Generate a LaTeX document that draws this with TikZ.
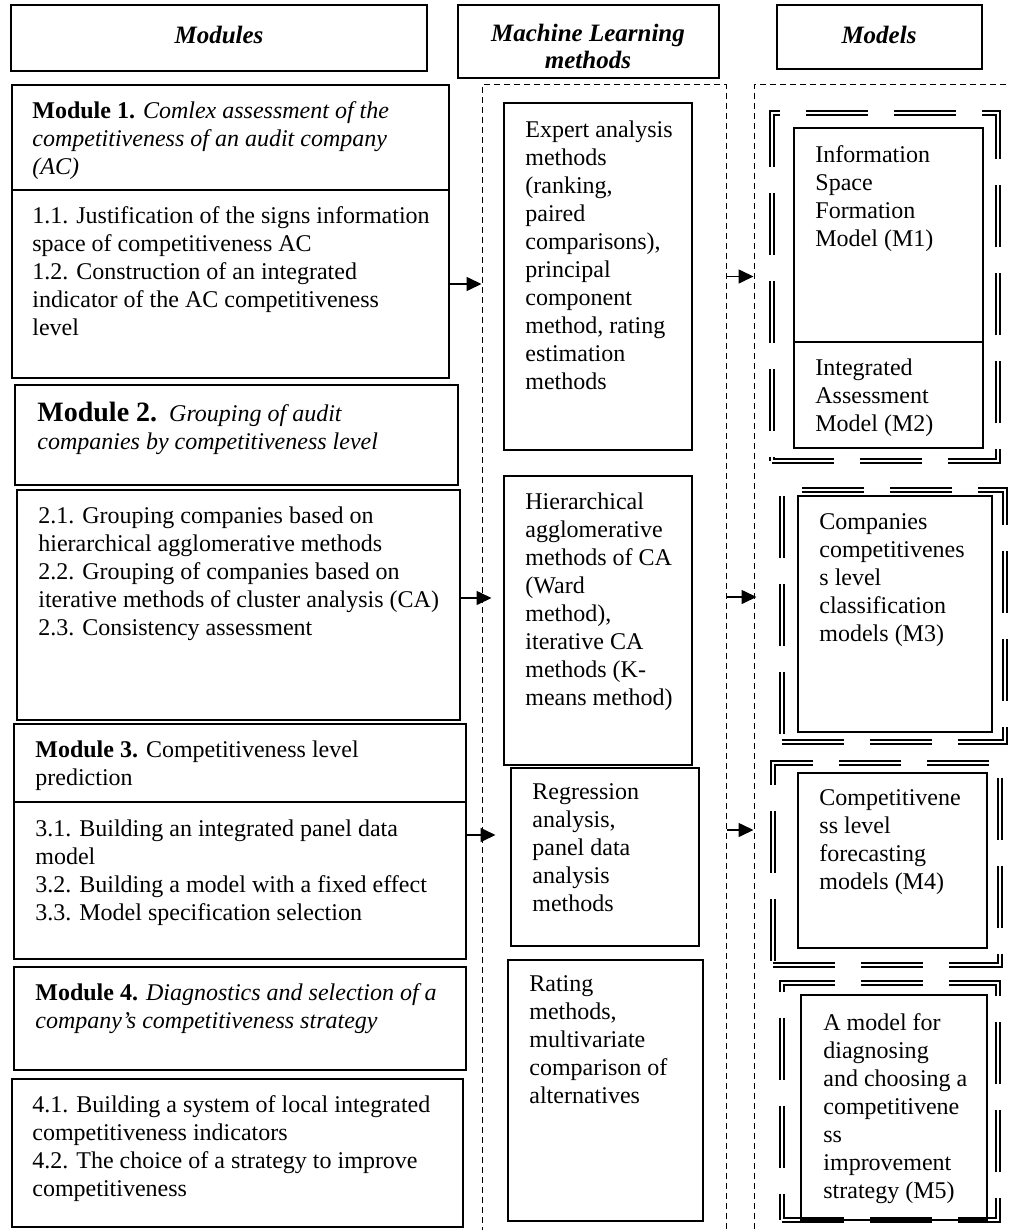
\documentclass[tikz,border=0pt]{standalone}
\usepackage{fontspec}
\setmainfont{Liberation Serif}
\usetikzlibrary{arrows.meta, calc, positioning, fit}

\tikzset{
  box/.style={draw, line width=0.8pt, inner sep=0pt},
  txt/.style={anchor=north west, inner sep=0pt, align=left, font=\fontsize{12}{14}\selectfont},
  htxt/.style={inner sep=0pt, align=center, font=\fontsize{12.5}{13.5}\selectfont\bfseries\itshape},
  frame/.style={draw, line width=0.5pt, dash pattern=on 3pt off 2pt, inner sep=0pt},
  dbl/.style={draw, double, line width=0.85pt, double distance=0.9pt, dash pattern=on 31pt off 13pt, inner sep=0pt},
  arr/.style={-{Triangle[length=7.5pt,width=7pt]}, line width=0.8pt},
}

\begin{document}
\begin{tikzpicture}[x=0.5pt,y=-0.5pt]
    \useasboundingbox (0,0) rectangle (1008,1230);

    % Column headers
    \node[box, fit={(11,5) (427,71)}] (hmod) {};
    \node[htxt] (hmodx) at (219,35) {Modules};
    \node[box, fit={(458,5) (719,78)}] (hml) {};
    \node[htxt] (hmlx) at (588,46) {Machine Learning\\methods};
    \node[box, fit={(777,5) (982,69)}] (hmdl) {};
    \node[htxt] (hmdlx) at (879,35) {Models};

    % Dashed column frames
    \node[frame, fit={(482,85) (726,1245)}] (mlframe) {};
    \node[frame, fit={(754,85) (1020,1245)}] (mdframe) {};

    % Module 1
    \node[box, fit={(12,85) (449,190)}] (mod1t) {};
    \node[txt] (mod1tx) at (32,101) {\textbf{Module 1.} \textit{Comlex assessment of the}\\\textit{competitiveness of an audit company}\\\textit{(AC)}};
    \node[box, fit={(12,190) (449,378)}] (mod1c) {};
    \node[txt] (mod1cx) at (32,206) {1.1. Justification of the signs information\\space of competitiveness AC\\1.2. Construction of an integrated\\indicator of the AC competitiveness\\level};

    % Module 2
    \node[box, fit={(15,385) (458,485)}] (mod2t) {};
    \node[txt] (mod2tx) at (37,402) {{\fontsize{14}{16}\selectfont\textbf{Module 2.}}\ \ \textit{Grouping of audit}\\\textit{companies by competitiveness level}};
    \node[box, fit={(17,490) (460,720)}] (mod2c) {};
    \node[txt] (mod2cx) at (38,506) {2.1. Grouping companies based on\\hierarchical agglomerative methods\\2.2. Grouping of companies based on\\iterative methods of cluster analysis (CA)\\2.3. Consistency assessment};

    % Module 3
    \node[box, fit={(14,724) (466,802)}] (mod3t) {};
    \node[txt] (mod3tx) at (35,740) {\textbf{Module 3.} Competitiveness level\\prediction};
    \node[box, fit={(14,802) (466,959)}] (mod3c) {};
    \node[txt] (mod3cx) at (35,819) {3.1. Building an integrated panel data\\model\\3.2. Building a model with a fixed effect\\3.3. Model specification selection};

    % Module 4
    \node[box, fit={(14,967) (466,1070)}] (mod4t) {};
    \node[txt] (mod4tx) at (35,983) {\textbf{Module 4.} \textit{Diagnostics and selection of a}\\\textit{company’s competitiveness strategy}};
    \node[box, fit={(12,1079) (463,1227)}] (mod4c) {};
    \node[txt] (mod4cx) at (32,1095) {4.1. Building a system of local integrated\\competitiveness indicators\\4.2. The choice of a strategy to improve\\competitiveness};

    % Machine learning methods
    \node[box, fit={(504,103) (692,450)}] (ml1) {};
    \node[txt] (ml1x) at (525,120) {Expert analysis\\methods\\(ranking,\\paired\\comparisons),\\principal\\component\\method, rating\\estimation\\methods};
    \node[box, fit={(504,476) (692,765)}] (ml2) {};
    \node[txt] (ml2x) at (525,492) {Hierarchical\\agglomerative\\methods of CA\\(Ward\\method),\\iterative CA\\methods (K-\\means method)};
    \node[box, fit={(511,768) (699,946)}] (ml3) {};
    \node[txt] (ml3x) at (532,783) {Regression\\analysis,\\panel data\\analysis\\methods};
    \node[box, fit={(508,960) (703,1221)}] (ml4) {};
    \node[txt] (ml4x) at (529,975) {Rating\\methods,\\multivariate\\comparison of\\alternatives};

    % Model groups (double dashed)
    \node[dbl, fit={(772,113) (998,461)}] (grp1) {};
    \node[dbl, fit={(782,490) (1005,742)}] (grp2) {};
    \node[dbl, fit={(773,763) (1000,965)}] (grp3) {};
    \node[dbl, fit={(782,983) (998,1220)}] (grp4) {};

    % Models
    \node[box, fit={(794,128) (983,342)}] (md1) {};
    \node[txt] (md1x) at (815,145) {Information\\Space\\Formation\\Model (M1)};
    \node[box, fit={(794,342) (983,448)}] (md2) {};
    \node[txt] (md2x) at (815,358) {Integrated\\Assessment\\Model (M2)};
    \node[box, fit={(798,496) (992,732)}] (md3) {};
    \node[txt] (md3x) at (819,513) {Companies\\competitivenes\\s level\\classification\\models (M3)};
    \node[box, fit={(798,773) (987,948)}] (md4) {};
    \node[txt] (md4x) at (819,789) {Competitivene\\ss level\\forecasting\\models (M4)};
    \node[box, fit={(801,995) (987,1220)}] (md5) {};
    \node[txt] (md5x) at (823,1013) {A model for\\diagnosing\\and choosing a\\competitivene\\ss\\improvement\\strategy (M5)};

    % Arrows
    \coordinate (p2) at ([yshift=3.5pt]mod2c.east);
    \coordinate (p3) at ([yshift=22.75pt]mod3c.east);
    \coordinate (q2) at ([yshift=11.75pt]ml2.east);
    \coordinate (q3) at ([yshift=13.5pt]ml3.east);
    \draw[arr] (mod1c.east) -- (mod1c.east -| mlframe.west);
    \draw[arr, shorten >=-5pt] (p2) -- (p2 -| mlframe.west);
    \draw[arr, shorten >=-7pt] (p3) -- (p3 -| mlframe.west);
    \draw[arr] (ml1.east -| mlframe.east) -- (ml1.east -| mdframe.west);
    \draw[arr, shorten >=-1.5pt] (q2 -| mlframe.east) -- (q2 -| mdframe.west);
    \draw[arr] (q3 -| mlframe.east) -- (q3 -| mdframe.west);
\end{tikzpicture}
\end{document}
